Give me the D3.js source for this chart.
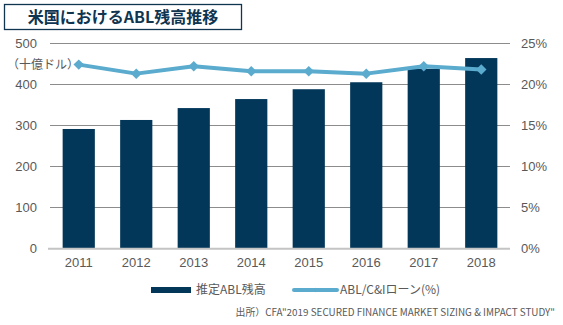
<!DOCTYPE html>
<html>
<head>
<meta charset="utf-8">
<script src="https://cdn.jsdelivr.net/npm/d3@7"></script>
<style>
  html, body { margin: 0; padding: 0; background: #fff; }
  svg { display: block; }
</style>
</head>
<body>
<svg id="chart" width="563" height="325"></svg>
<script>
// Chart data
const years = ["2011", "2012", "2013", "2014", "2015", "2016", "2017", "2018"];
const ablBalance = [291, 313, 342, 364, 388, 405, 438, 464];        // 十億ドル
const ablRatio = [22.4, 21.3, 22.2, 21.6, 21.6, 21.3, 22.2, 21.8]; // %
const leftTicks = [0, 100, 200, 300, 400, 500];
const rightTicks = [0, 5, 10, 15, 20, 25];

const barColor = "#02375a";
const lineColor = "#5aabcd";
const textColor = "#595959";
const font = "'Liberation Sans', Arial, 'Noto Sans CJK JP', sans-serif";
const cjkFont = "'Noto Sans CJK JP', 'Liberation Sans', sans-serif";

const svg = d3.select("#chart");
const plot = { left: 50, right: 510, top: 43.3, bottom: 248.3 };

const x = d3.scaleBand().domain(years).range([plot.left, plot.right]).paddingInner(0.44).paddingOuter(0.22);
const yL = d3.scaleLinear().domain([0, 500]).range([plot.bottom, plot.top]);
const yR = d3.scaleLinear().domain([0, 25]).range([plot.bottom, plot.top]);

// Title box
svg.append("rect").attr("x", 4.5).attr("y", 4.5).attr("width", 237).attr("height", 25)
  .attr("fill", "#fff").attr("stroke", "#0f3550").attr("stroke-width", 1.3);
svg.append("text").attr("x", 123).attr("y", 17.5).attr("dy", "0.36em")
  .attr("text-anchor", "middle").attr("font-family", cjkFont).attr("font-weight", "bold")
  .attr("font-size", 16).attr("fill", "#0f3550").text("米国におけるABL残高推移");

// Gridlines
svg.append("g").selectAll("line").data(leftTicks.filter(d => d > 0)).join("line")
  .attr("x1", plot.left).attr("x2", plot.right)
  .attr("y1", d => Math.round(yL(d)) + 0.5).attr("y2", d => Math.round(yL(d)) + 0.5)
  .attr("stroke", "#8c8c8c").attr("stroke-width", 1);

// Left axis
const leftAxis = svg.append("g").attr("transform", `translate(${plot.left - 8},0)`)
  .call(d3.axisLeft(yL).tickValues(leftTicks).tickSize(0).tickPadding(5));
leftAxis.select(".domain").remove();
leftAxis.selectAll("text").attr("font-family", font).attr("font-size", 13).attr("fill", textColor);

// Right axis
const rightAxis = svg.append("g").attr("transform", `translate(${plot.right + 6},0)`)
  .call(d3.axisRight(yR).tickValues(rightTicks).tickFormat(d => d + "%").tickSize(0).tickPadding(5));
rightAxis.select(".domain").remove();
rightAxis.selectAll("text").attr("font-family", font).attr("font-size", 13).attr("fill", textColor);

// Unit label
svg.append("text").attr("x", 7).attr("y", 65).attr("dy", "0.36em")
  .attr("font-family", cjkFont).attr("font-size", 12).attr("fill", textColor).text("（十億ドル）");

// Bars
svg.append("g").selectAll("rect").data(years).join("rect")
  .attr("x", d => x(d)).attr("width", x.bandwidth())
  .attr("y", (d, i) => yL(ablBalance[i])).attr("height", (d, i) => yL(0) - yL(ablBalance[i]))
  .attr("fill", barColor);

// Baseline
svg.append("line").attr("x1", plot.left - 2).attr("x2", plot.right)
  .attr("y1", plot.bottom + 0.5).attr("y2", plot.bottom + 0.5)
  .attr("stroke", "#c4c4c4").attr("stroke-width", 2);

// X axis labels
const xAxis = svg.append("g").attr("transform", `translate(0,${plot.bottom + 1})`)
  .call(d3.axisBottom(x).tickSize(0).tickPadding(8));
xAxis.select(".domain").remove();
xAxis.selectAll("text").attr("font-family", font).attr("font-size", 13).attr("fill", textColor);

// Ratio line
const line = d3.line().x((d, i) => x(years[i]) + x.bandwidth() / 2).y(d => yR(d));
svg.append("path").datum(ablRatio).attr("d", line)
  .attr("fill", "none").attr("stroke", lineColor).attr("stroke-width", 4).attr("stroke-linejoin", "round");
const diamond = d3.symbol().type(d3.symbolDiamond2).size(70);
svg.append("g").selectAll("path").data(ablRatio).join("path")
  .attr("d", diamond)
  .attr("transform", (d, i) => `translate(${x(years[i]) + x.bandwidth() / 2},${yR(d)})`)
  .attr("fill", lineColor);

// Legend
const legY = 290;
svg.append("rect").attr("x", 151).attr("y", legY - 3).attr("width", 40).attr("height", 6).attr("fill", barColor);
svg.append("text").attr("x", 196).attr("y", legY).attr("dy", "0.36em")
  .attr("font-family", cjkFont).attr("font-size", 12).attr("fill", textColor).text("推定ABL残高");
svg.append("line").attr("x1", 294).attr("x2", 337).attr("y1", legY).attr("y2", legY)
  .attr("stroke", lineColor).attr("stroke-width", 4).attr("stroke-linecap", "round");
svg.append("path").attr("d", d3.symbol().type(d3.symbolDiamond2).size(12))
  .attr("transform", `translate(315.5,${legY})`).attr("fill", lineColor);
svg.append("text").attr("x", 340).attr("y", legY).attr("dy", "0.36em")
  .attr("font-family", cjkFont).attr("font-size", 12).attr("fill", textColor).text("ABL/C&Iローン(%)");

// Source
svg.append("text").attr("x", 555).attr("y", 312).attr("dy", "0.36em").attr("text-anchor", "end")
  .attr("font-family", cjkFont).attr("font-size", 9.9).attr("fill", textColor)
  .text("出所）CFA\"2019 SECURED FINANCE MARKET SIZING & IMPACT STUDY\"");
</script>
</body>
</html>
